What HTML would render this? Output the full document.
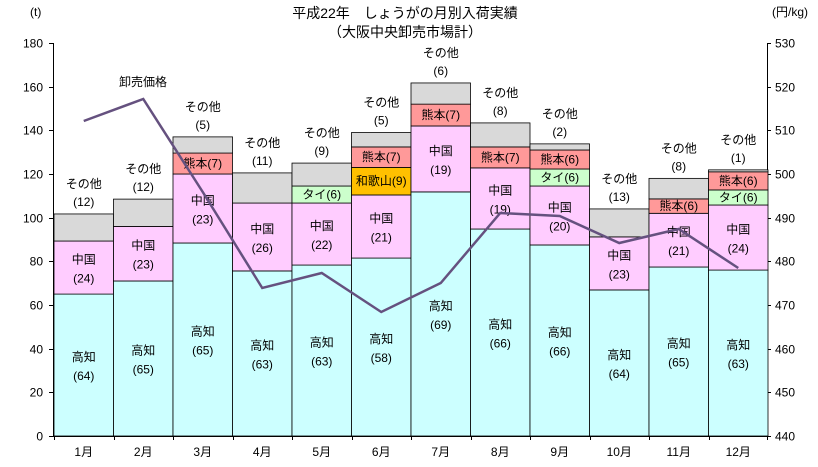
<!DOCTYPE html>
<html><head><meta charset="utf-8"><style>
body{margin:0;background:#fff}
svg text{font-family:"Liberation Sans","Noto Sans CJK JP",sans-serif;font-size:12px;fill:#000}
</style></head><body>
<svg width="818" height="462" viewBox="0 0 818 462" xmlns="http://www.w3.org/2000/svg">
<text x="405" y="18" text-anchor="middle" font-size="14" style="font-size:14px">平成22年　しょうがの月別入荷実績</text>
<text x="405" y="37" text-anchor="middle" style="font-size:14px">（大阪中央卸売市場計）</text>
<text x="30" y="16" style="font-size:12px">(t)</text>
<text x="772" y="16" style="font-size:12px">(円/kg)</text>
<g id="grid" stroke="#000" stroke-width="1">
<line x1="53.5" y1="43" x2="53.5" y2="436"/>
<line x1="767.5" y1="43" x2="767.5" y2="436"/>
<line x1="53" y1="436.5" x2="768" y2="436.5"/>
</g>
<g stroke="#000" stroke-width="1" id="ticks"></g>
<g id="bars" stroke="#000" stroke-width="0.8"></g>
<g id="lbl"></g>
<polyline id="line" fill="none" stroke="#65517f" stroke-width="2.5"/>
</svg>
<script>
const NS="http://www.w3.org/2000/svg";
function el(t,a,p,txt){const e=document.createElementNS(NS,t);for(const k in a)e.setAttribute(k,a[k]);if(txt!==undefined)e.textContent=txt;document.getElementById(p).appendChild(e);return e;}
const Y=v=>436-v*2.1833;
for(let i=0;i<=9;i++){const y=Math.round(Y(i*20))+0.5;
 el('line',{x1:49,y1:y,x2:53,y2:y},'ticks');el('line',{x1:767,y1:y,x2:771,y2:y},'ticks');
 el('text',{x:43,y:y+4,'text-anchor':'end'},'lbl',String(i*20));
 el('text',{x:775,y:y+4},'lbl',String(440+i*10));}
const C={k:'#ccffff',c:'#ffccff',t:'#ccffcc',ku:'#ff9999',w:'#ffc000',o:'#d9d9d9'};
const N={k:'高知',c:'中国',t:'タイ',ku:'熊本',w:'和歌山',o:'その他'};
const D=[
[['k',65,64],['c',89.3,24],['o',101.7,12]],
[['k',71,65],['c',96,23],['o',108.5,12]],
[['k',88.4,65],['c',120,23],['ku',129.6,7],['o',137,5]],
[['k',75.6,63],['c',106.7,26],['o',120.5,11]],
[['k',78.3,63],['c',106.7,22],['t',114.5,6],['o',125,9]],
[['k',81.5,58],['c',110.4,21],['w',123,9],['ku',132.4,7],['o',139,5]],
[['k',111.8,69],['c',142,19],['ku',152,7],['o',161.7,6]],
[['k',94.8,66],['c',122.8,19],['ku',132.4,7],['o',143.4,8]],
[['k',87.5,66],['c',114.5,20],['t',122.3,6],['ku',131,6],['o',133.8,2]],
[['k',66.9,64],['c',91.2,23],['o',104,13]],
[['k',77.4,65],['c',102,21],['ku',108.6,6],['o',118,8]],
[['k',76,63],['c',105.8,24],['t',112.7,6],['ku',121,6],['o',121.9,1]]];
const W=59.5;const pts=[];
const L=[121,99,192,288,273,312,283,213,216,243,229,268];
D.forEach((b,i)=>{const x=54+i*W,cx=x+W/2;let prev=0;
 b.forEach(([k,top,p])=>{const y1=Y(top),y0=Y(prev);
  el('rect',{x:x,y:y1,width:W,height:y0-y1,fill:C[k]},'bars');
  const m=(y0+y1)/2;
  if(k=='o'){el('text',{x:cx,y:y1-26,'text-anchor':'middle'},'lbl',N[k]);el('text',{x:cx,y:y1-8,'text-anchor':'middle'},'lbl','('+p+')');}
  else if(k=='k'||k=='c'){el('text',{x:cx,y:m-4,'text-anchor':'middle'},'lbl',N[k]);el('text',{x:cx,y:m+15,'text-anchor':'middle'},'lbl','('+p+')');}
  else el('text',{x:cx,y:m+4,'text-anchor':'middle'},'lbl',N[k]+'('+p+')');
  prev=top;});
 el('text',{x:cx,y:456,'text-anchor':'middle'},'lbl',(i+1)+'月');
 el('line',{x1:Math.round(x)+0.5,y1:436,x2:Math.round(x)+0.5,y2:440},'ticks');
 pts.push(cx+','+L[i]);});
el('line',{x1:767.5,y1:436,x2:767.5,y2:440},'ticks');
document.getElementById('line').setAttribute('points',pts.join(' '));
el('text',{x:143,y:86,'text-anchor':'middle'},'lbl','卸売価格');
</script>
</body></html>
